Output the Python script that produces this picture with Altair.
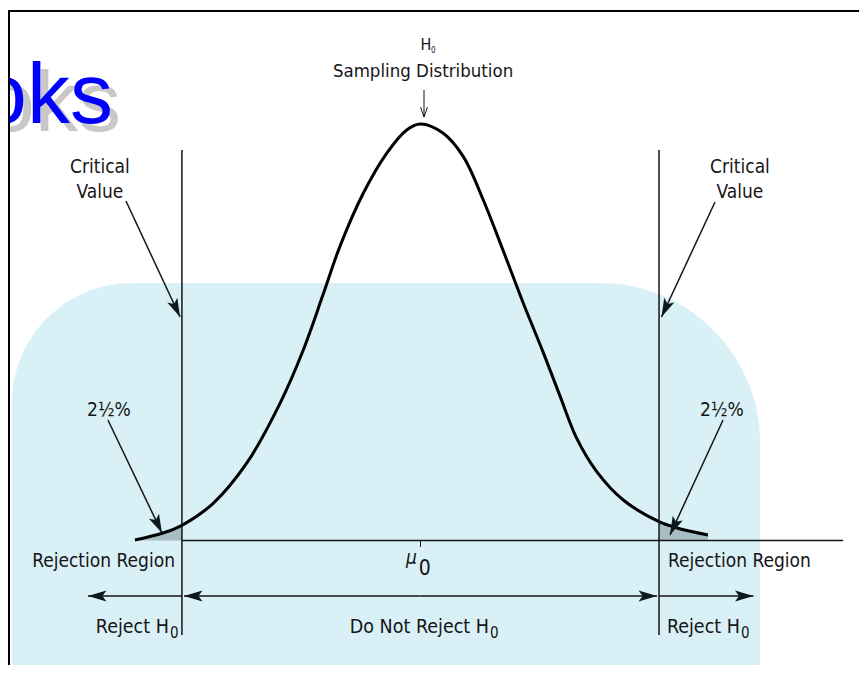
import math
import altair as alt
import pandas as pd

# ---------------- data (x in standard units z, y in density) ----------------
curve_z = [-2.346, -2.116, -1.96, -1.703, -1.428, -1.154, -0.963, -0.799, -0.661,
           -0.470, -0.278, -0.113, 0.0, 0.187, 0.352, 0.516, 0.680, 0.845, 1.009,
           1.146, 1.283, 1.448, 1.666, 1.96, 2.108, 2.362]
curve_d = [0.0005, 0.0072, 0.0145, 0.0356, 0.0740, 0.1314, 0.1825, 0.2360, 0.2820,
           0.3326, 0.3709, 0.3933, 0.399, 0.3901, 0.3677, 0.3262, 0.2775, 0.2272, 0.1800,
           0.1385, 0.0980, 0.0660, 0.0388, 0.0180, 0.0120, 0.0053]
critical_values = [-1.96, 1.96]
mean_value = 0.0

# annotation arrows: start (x, y) -> tip (x2, y2)
arrow_x  = [-2.420, 2.420, -2.568, 2.486, -1.96, 0.0, 0.0, 1.96]
arrow_y  = [0.3252, 0.3243, 0.1154, 0.1154, -0.0532, -0.0532, -0.0532, -0.0532]
arrow_x2 = [-1.975, 1.980, -2.124, 2.050, -2.732, -1.943, 1.944, 2.736]
arrow_y2 = [0.2141, 0.2141, 0.0072, 0.0053, -0.0532, -0.0532, -0.0532, -0.0532]

# labels
label_text  = ["H", "Sampling Distribution", "Critical", "Value", "Critical", "Value",
               "2½%", "2½%", "0",
               "0", "Rejection Region", "0", "0", "0",
               "Rejection Region", "Reject H", "Do Not Reject H", "Reject H"]
label_x     = [0.045, 0.021, -2.634, -2.634, 2.625, 2.625,
               -2.560, 2.477, 0.035,
               0.086, 2.034, -2.058, 0.571, 2.633,
               -2.017, -2.067, 0.563, 2.625]
label_y     = [0.470, 0.444, 0.352, 0.328, 0.352, 0.328,
               0.119, 0.119, -0.033,
               0.467, -0.0254, -0.0934, -0.0934, -0.0934,
               -0.0254, -0.0886, -0.0886, -0.0886]
label_size  = [16, 18.5, 19, 19, 19, 19,
               19, 19, 21,
               8, 19, 15, 15, 15,
               19, 19.5, 19.5, 19.5]
label_align = ["center"] * 9 + ["left"] * 5 + ["right"] * 4

# ---------------- scales ----------------
X_DOM = [-3.389, 3.603]
Y_DOM = [-0.1193, 0.5101]
W, H = 851, 657
PX_X = W / (X_DOM[1] - X_DOM[0])
PX_Y = H / (Y_DOM[1] - Y_DOM[0])
xs = alt.Scale(domain=X_DOM, nice=False, zero=False)
ys = alt.Scale(domain=Y_DOM, nice=False, zero=False)

FONT = "Liberation Sans Narrow, DejaVu Sans Condensed, Roboto, sans-serif"
INK = "#151515"


def X(f):
    return alt.X(f, type="quantitative", scale=xs, axis=None)


def Y(f):
    return alt.Y(f, type="quantitative", scale=ys, axis=None)


curve = pd.DataFrame({"z": curve_z, "d": curve_d})
left_tail = curve[curve.z <= critical_values[0]]
right_tail = curve[curve.z >= critical_values[1]]

arrows = pd.DataFrame({"x": arrow_x, "y": arrow_y, "x2": arrow_x2, "y2": arrow_y2})
arrows["angle"] = [
    (math.degrees(math.atan2((b2 - b) * PX_X, (a2 - a) * PX_Y)) + 360) % 360
    for b, a, b2, a2 in zip(arrows.x, arrows.y, arrows.x2, arrows.y2)
]

labels = pd.DataFrame({"text": label_text, "x": label_x, "y": label_y,
                       "size": label_size, "align": label_align})

# ---------------- background decoration ----------------
panel = alt.Chart(pd.DataFrame({"x": [-3.357], "x2": [2.790], "y": [0.2467], "y2": [Y_DOM[0]]})).mark_rect(
    color="#d9f0f6", cornerRadiusTopLeft=120, cornerRadiusTopRight=160
).encode(x=X("x"), x2="x2", y=Y("y"), y2="y2")

wm = pd.DataFrame({"t": ["DropBooks"], "x": [-2.527], "y": [0.400]})
wm_shadow = alt.Chart(wm).mark_text(align="right", baseline="alphabetic", font="Liberation Sans",
                                    fontSize=86, color="#c8c8c8", dx=8, dy=8).encode(
    x=X("x"), y=Y("y"), text="t")
wm_text = alt.Chart(wm).mark_text(align="right", baseline="alphabetic", font="Liberation Sans",
                                  fontSize=86, color="#0000ff").encode(
    x=X("x"), y=Y("y"), text="t")

frame = alt.Chart(pd.DataFrame({
    "x": [X_DOM[0], X_DOM[0] + 1 / PX_X],
    "x2": [X_DOM[1], X_DOM[0] + 1 / PX_X],
    "y": [0.5072, 0.5072],
    "y2": [0.5072, Y_DOM[0]],
})).mark_rule(color="#000000", strokeWidth=2).encode(x=X("x"), x2="x2", y=Y("y"), y2="y2")

# ---------------- chart marks ----------------
INTERP = "catmull-rom"
shade_l = alt.Chart(left_tail).mark_area(color="#a8bec4", interpolate=INTERP).encode(
    x=X("z"), y=Y("d"), y2=alt.datum(0))
shade_r = alt.Chart(right_tail).mark_area(color="#a8bec4", interpolate=INTERP).encode(
    x=X("z"), y=Y("d"), y2=alt.datum(0))

line = alt.Chart(curve).mark_line(color="#000000", strokeWidth=3, interpolate=INTERP).encode(
    x=X("z"), y=Y("d"))

baseline = alt.Chart(pd.DataFrame({"x": [critical_values[0]], "x2": [3.472], "y": [0.0]})).mark_rule(
    color=INK, strokeWidth=1.5).encode(x=X("x"), x2="x2", y=Y("y"))

mu_tick = alt.Chart(pd.DataFrame({"x": [mean_value], "y": [0.0], "y2": [-0.0062]})).mark_rule(
    color=INK, strokeWidth=1).encode(x=X("x"), y=Y("y"), y2="y2")

crit_lines = alt.Chart(pd.DataFrame({"x": critical_values, "y": [0.374, 0.374], "y2": [-0.0905, -0.0905]})).mark_rule(
    color=INK, strokeWidth=1.5).encode(x=X("x"), y=Y("y"), y2="y2")

arrow_lines = alt.Chart(arrows).mark_rule(color=INK, strokeWidth=1.5).encode(
    x=X("x"), x2="x2", y=Y("y"), y2="y2")

HEAD = "M0,0 L0.3,1 L0,0.78 L-0.3,1 Z"
arrow_heads = alt.Chart(arrows).mark_point(shape=HEAD, filled=True, size=1370, opacity=1,
                                           color="#0d1a1d", strokeWidth=0).encode(
    x=X("x2"), y=Y("y2"), angle=alt.Angle("angle:Q", scale=None))

h0_arrow = pd.DataFrame({"x": [0.029], "y": [0.4316], "x2": [0.029], "y2": [0.4057]})
h0_line = alt.Chart(h0_arrow).mark_rule(color=INK, strokeWidth=1).encode(
    x=X("x"), x2="x2", y=Y("y"), y2="y2")
h0_head = alt.Chart(h0_arrow).mark_point(shape="M-0.35,1 L0,0 L0.35,1", filled=False, size=400,
                                         opacity=1, color=INK, strokeWidth=1, angle=180).encode(
    x=X("x2"), y=Y("y2"))


def text_layer(align):
    return alt.Chart(labels).transform_filter(alt.datum.align == align).mark_text(
        align=align, baseline="alphabetic", font=FONT, color=INK).encode(
        x=X("x"), y=Y("y"), text="text:N", size=alt.Size("size:Q", scale=None))


mu = alt.Chart(pd.DataFrame({"t": ["μ"], "x": [-0.075], "y": [-0.0225]})).mark_text(
    align="center", baseline="alphabetic", font=FONT, fontStyle="italic", fontSize=19, color=INK).encode(
    x=X("x"), y=Y("y"), text="t")

chart = alt.layer(
    panel, wm_shadow, wm_text, frame,
    shade_l, shade_r, line, baseline, mu_tick, crit_lines,
    arrow_lines, arrow_heads, h0_line, h0_head,
    text_layer("center"), text_layer("left"), text_layer("right"), mu,
).properties(
    width=W, height=H, padding=0, autosize=alt.AutoSizeParams(type="none"),
    background="#ffffff",
).configure_view(stroke=None)

chart.save("out.html", embed_options={"renderer": "svg", "actions": False})
